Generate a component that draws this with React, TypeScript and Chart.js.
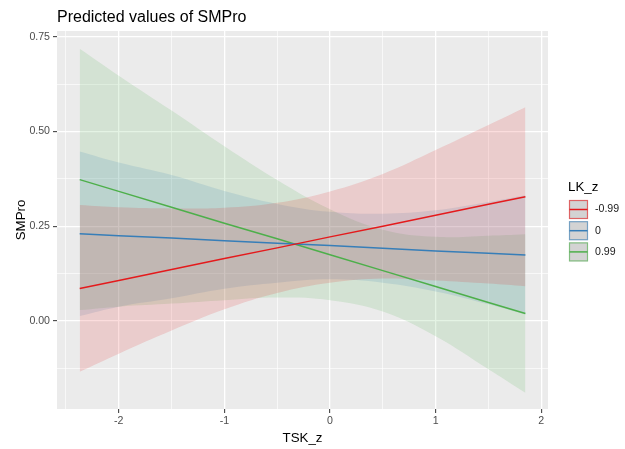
import { useEffect, useRef } from "react";
import { Chart, registerables } from "chart.js";

Chart.register(...registerables);

const FONT = "'Liberation Sans', Arial, Helvetica, sans-serif";

const chartTitle = "Predicted values of SMPro";
const xTitle = "TSK_z";
const yTitle = "SMPro";
const legendTitle = "LK_z";
const lkLevels = ["-0.99", "0", "0.99"];
const lkColors = ["#E41A1C", "#377EB8", "#4DAF4A"];

const tskValues = [-2.37, -2, -1.5, -1, -0.5, 0, 0.5, 1, 1.5, 1.85];

// LK_z = -0.99
const predNeg = [0.086, 0.107, 0.136, 0.165, 0.193, 0.222, 0.25, 0.279, 0.308, 0.328];
const lowNeg = [-0.134, -0.086, -0.025, 0.031, 0.074, 0.101, 0.112, 0.107, 0.099, 0.092];
const highNeg = [0.306, 0.3, 0.297, 0.299, 0.312, 0.342, 0.388, 0.451, 0.517, 0.564];

// LK_z = 0
const predZero = [0.23, 0.225, 0.219, 0.212, 0.205, 0.199, 0.192, 0.185, 0.179, 0.174];
const lowZero = [0.013, 0.038, 0.06, 0.085, 0.101, 0.11, 0.101, 0.078, 0.044, 0.017];
const highZero = [0.447, 0.418, 0.385, 0.343, 0.309, 0.288, 0.283, 0.292, 0.314, 0.332];

// LK_z = 0.99
const predPos = [0.373, 0.342, 0.3, 0.258, 0.217, 0.175, 0.133, 0.091, 0.049, 0.02];
const lowPos = [0.029, 0.038, 0.046, 0.055, 0.062, 0.055, 0.025, -0.04, -0.127, -0.189];
const highPos = [0.718, 0.647, 0.555, 0.461, 0.372, 0.295, 0.241, 0.222, 0.225, 0.229];

const xMin = -2.585;
const xMax = 2.064;
const yMin = -0.232;
const yMax = 0.765;

const preds = [predNeg, predZero, predPos];
const lows = [lowNeg, lowZero, lowPos];
const highs = [highNeg, highZero, highPos];

function pts(ys: number[]) {
  return tskValues.map((x, i) => ({ x, y: ys[i] }));
}

function rgba(hex: string, a: number) {
  const r = parseInt(hex.slice(1, 3), 16);
  const g = parseInt(hex.slice(3, 5), 16);
  const b = parseInt(hex.slice(5, 7), 16);
  return `rgba(${r},${g},${b},${a})`;
}

const isMajorX = (v: number) => Math.abs(v - Math.round(v)) < 1e-6;
const isMajorY = (v: number) => Math.abs(v * 4 - Math.round(v * 4)) < 1e-6;

const ggPlugin = {
  id: "ggDecor",
  beforeDraw(chart: any) {
    const { ctx, chartArea } = chart;
    ctx.save();
    ctx.fillStyle = "#EBEBEB";
    ctx.fillRect(chartArea.left, chartArea.top, chartArea.right - chartArea.left, chartArea.bottom - chartArea.top);
    ctx.restore();
  },
  afterDraw(chart: any) {
    const { ctx, chartArea } = chart;
    ctx.save();
    ctx.fillStyle = "#000000";
    ctx.textBaseline = "alphabetic";
    ctx.textAlign = "left";
    ctx.font = `16px ${FONT}`;
    ctx.fillText(chartTitle, chartArea.left, 21.5);

    ctx.font = `13.3px ${FONT}`;
    ctx.textAlign = "center";
    ctx.fillText(xTitle, (chartArea.left + chartArea.right) / 2, 442);

    ctx.save();
    ctx.translate(25, (chartArea.top + chartArea.bottom) / 2);
    ctx.rotate(-Math.PI / 2);
    ctx.fillText(yTitle, 0, 0);
    ctx.restore();

    // legend
    const lx = 568;
    ctx.textAlign = "left";
    ctx.font = `13.3px ${FONT}`;
    ctx.fillText(legendTitle, lx, 191.2);
    const ky0 = 199;
    const ks = 21.2;
    lkLevels.forEach((lab, i) => {
      const y = ky0 + i * ks;
      ctx.fillStyle = "#D3D3D3";
      ctx.fillRect(lx + 1, y + 1, 19, 19);
      ctx.strokeStyle = rgba(lkColors[i], 0.6);
      ctx.lineWidth = 1.2;
      ctx.strokeRect(lx + 1.5, y + 1.5, 18, 18);
      ctx.strokeStyle = lkColors[i];
      ctx.lineWidth = 1.5;
      ctx.beginPath();
      ctx.moveTo(lx + 1.5, y + 10.5);
      ctx.lineTo(lx + 19.5, y + 10.5);
      ctx.stroke();
      ctx.fillStyle = "#1A1A1A";
      ctx.font = `10.6px ${FONT}`;
      ctx.textBaseline = "middle";
      ctx.fillText(lab, lx + 27, y + 10.5);
      ctx.textBaseline = "alphabetic";
    });
    ctx.restore();
  },
};

export default function App() {
  const ref = useRef<HTMLCanvasElement | null>(null);

  useEffect(() => {
    if (!ref.current) return;
    const datasets: any[] = [];
    lkLevels.forEach((lab, i) => {
      datasets.push({
        label: lab,
        data: pts(preds[i]),
        borderColor: lkColors[i],
        borderWidth: 1.5,
        pointRadius: 0,
        fill: false,
        tension: 0,
      });
    });
    lkLevels.forEach((lab, i) => {
      datasets.push({
        label: lab + " low",
        data: pts(lows[i]),
        borderColor: "rgba(0,0,0,0)",
        borderWidth: 0,
        pointRadius: 0,
        fill: false,
        tension: 0.4,
      });
      datasets.push({
        label: lab + " high",
        data: pts(highs[i]),
        borderColor: "rgba(0,0,0,0)",
        borderWidth: 0,
        pointRadius: 0,
        fill: "-1",
        backgroundColor: rgba(lkColors[i], 0.15),
        tension: 0.4,
      });
    });

    const chart = new Chart(ref.current, {
      type: "line",
      data: { datasets },
      plugins: [ggPlugin],
      options: {
        animation: false,
        responsive: false,
        devicePixelRatio: 1,
        layout: { padding: { top: 31, right: 77, left: 0, bottom: 0 } },
        plugins: {
          legend: { display: false },
          title: { display: false },
          tooltip: { enabled: false },
          filler: { drawTime: "beforeDatasetsDraw" },
        } as any,
        scales: {
          x: {
            type: "linear",
            min: xMin,
            max: xMax,
            afterFit: (s: any) => {
              s.height = 40;
              s.paddingLeft = 0;
              s.paddingRight = 0;
            },
            border: { display: false },
            grid: {
              color: "#FFFFFF",
              lineWidth: (c: any) => (c.tick && isMajorX(c.tick.value) ? 1.3 : 0.65),
              tickLength: 4,
              tickWidth: 1,
              tickColor: (c: any) => (c.tick && isMajorX(c.tick.value) ? "#333333" : "rgba(0,0,0,0)"),
            },
            ticks: {
              stepSize: 0.5,
              includeBounds: false,
              autoSkip: false,
              maxRotation: 0,
              padding: 2,
              color: "#4D4D4D",
              font: { family: FONT, size: 10.6 },
              callback: (v: any) => (isMajorX(Number(v)) ? String(Math.round(Number(v))) : ""),
            },
          },
          y: {
            type: "linear",
            min: yMin,
            max: yMax,
            afterFit: (s: any) => {
              s.width = 57;
              s.paddingTop = 0;
              s.paddingBottom = 0;
            },
            border: { display: false },
            grid: {
              color: "#FFFFFF",
              lineWidth: (c: any) => (c.tick && isMajorY(c.tick.value) ? 1.3 : 0.65),
              tickLength: 4,
              tickWidth: 1,
              tickColor: (c: any) => (c.tick && isMajorY(c.tick.value) ? "#333333" : "rgba(0,0,0,0)"),
            },
            ticks: {
              stepSize: 0.125,
              includeBounds: false,
              autoSkip: false,
              padding: 3,
              color: "#4D4D4D",
              font: { family: FONT, size: 10.6 },
              callback: (v: any) => (isMajorY(Number(v)) ? Number(v).toFixed(2) : ""),
            },
          },
        },
      } as any,
    });
    return () => chart.destroy();
  }, []);

  return (
    <div style={{ position: "fixed", left: 0, top: 0, width: 625, height: 449, background: "#FFFFFF" }}>
      <canvas ref={ref} width={625} height={449} style={{ width: 625, height: 449, display: "block" }} />
    </div>
  );
}
